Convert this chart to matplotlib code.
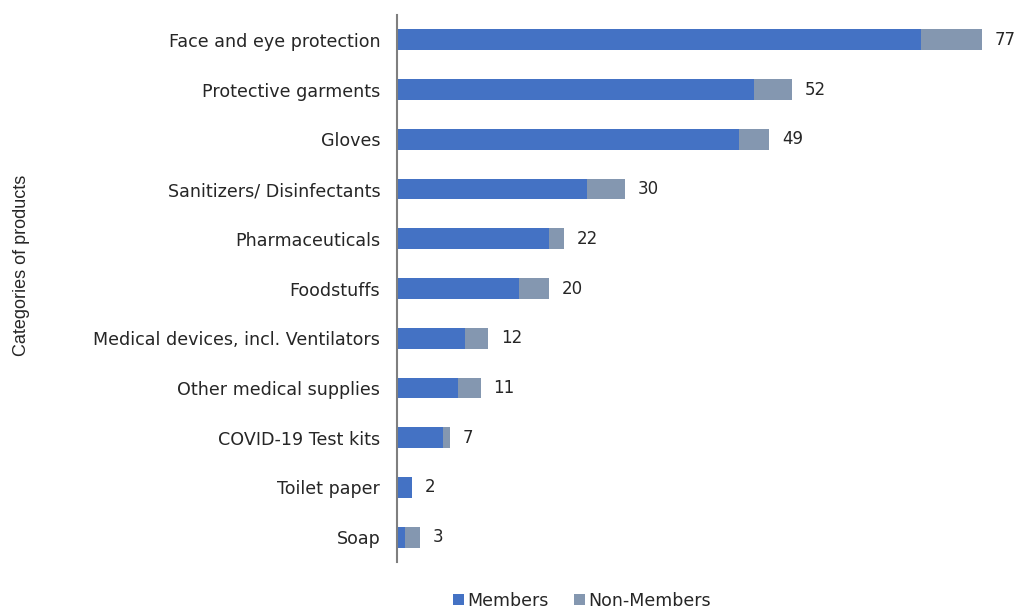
import matplotlib.pyplot as plt
import numpy as np

categories = [
    "Face and eye protection",
    "Protective garments",
    "Gloves",
    "Sanitizers/ Disinfectants",
    "Pharmaceuticals",
    "Foodstuffs",
    "Medical devices, incl. Ventilators",
    "Other medical supplies",
    "COVID-19 Test kits",
    "Toilet paper",
    "Soap",
]
members = [69, 47, 45, 25, 20, 16, 9, 8, 6, 2, 1]
non_members = [8, 5, 4, 5, 2, 4, 3, 3, 1, 0, 2]
totals = [77, 52, 49, 30, 22, 20, 12, 11, 7, 2, 3]

blue = "#4472C4"
grey = "#8497B0"

fig = plt.figure(figsize=(10.35, 6.1), dpi=100)
ax = fig.add_axes([397 / 1035, 1 - 562 / 610, 608 / 1035, 547 / 610])

y = np.arange(len(categories))
ax.barh(y, members, height=0.42, color=blue, label="Members")
ax.barh(y, non_members, left=members, height=0.42, color=grey, label="Non-Members")

for yi, t in zip(y, totals):
    ax.annotate(str(t), (t, yi), xytext=(9, 0), textcoords="offset points",
                va="center", ha="left", fontsize=12, color="#262626")

ax.set_xlim(0, 80)
ax.set_ylim(len(categories) - 0.5, -0.5)
ax.set_yticks(y)
ax.set_yticklabels(categories, fontsize=12.6, color="#262626")
ax.tick_params(axis="y", length=0, pad=12)
ax.set_xticks([])

for side in ["top", "right", "bottom"]:
    ax.spines[side].set_visible(False)
ax.spines["left"].set_color("#7f7f7f")
ax.spines["left"].set_linewidth(1.5)

fig.text(22 / 1035, 1 - 265 / 610, "Categories of products", rotation=90,
         va="center", ha="center", fontsize=13, family="Liberation Sans",
         color="#262626")

fig.legend(loc="center", bbox_to_anchor=(582 / 1035, 1 - 601 / 610), ncol=2,
           frameon=False, fontsize=12.5, handlelength=0.6, handleheight=0.6,
           handletextpad=0.2, columnspacing=1.5, labelcolor="#262626")

fig.savefig("out.png", dpi=100)
